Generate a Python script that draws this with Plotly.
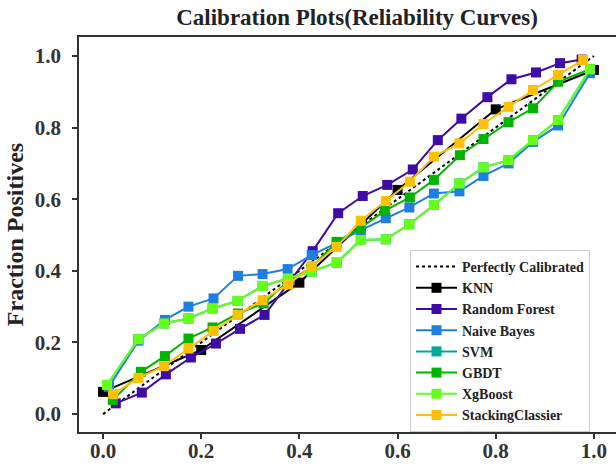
import plotly.graph_objects as go

# ---------------- data ----------------
perfect_x = [0.0, 1.0]
perfect_y = [0.0, 1.0]

knn_x = [0.0, 0.2, 0.4, 0.6, 0.8, 1.0]
knn_y = [0.062, 0.179, 0.367, 0.626, 0.851, 0.961]

rf_x = [0.026, 0.079, 0.128, 0.179, 0.230, 0.279, 0.329, 0.378, 0.427, 0.479,
        0.529, 0.579, 0.631, 0.682, 0.730, 0.783, 0.832, 0.882, 0.931, 0.975]
rf_y = [0.030, 0.060, 0.111, 0.158, 0.197, 0.238, 0.277, 0.365, 0.455, 0.561,
        0.609, 0.640, 0.683, 0.765, 0.825, 0.885, 0.935, 0.954, 0.980, 0.990]

nb_x = [0.012, 0.072, 0.126, 0.174, 0.225, 0.275, 0.325, 0.376, 0.425, 0.476,
        0.525, 0.576, 0.624, 0.674, 0.726, 0.775, 0.826, 0.876, 0.927, 0.992]
nb_y = [0.076, 0.205, 0.263, 0.300, 0.323, 0.386, 0.391, 0.405, 0.444, 0.478,
        0.514, 0.547, 0.577, 0.616, 0.622, 0.665, 0.700, 0.760, 0.806, 0.952]

svm_x = [0.008, 0.072, 0.124, 0.174, 0.223, 0.274, 0.325, 0.377, 0.425, 0.476,
         0.525, 0.576, 0.624, 0.674, 0.726, 0.775, 0.826, 0.876, 0.927, 0.992]
svm_y = [0.081, 0.209, 0.253, 0.267, 0.295, 0.316, 0.358, 0.379, 0.398, 0.423,
         0.486, 0.488, 0.530, 0.584, 0.644, 0.689, 0.709, 0.765, 0.821, 0.963]

gbdt_x = [0.020, 0.077, 0.126, 0.174, 0.223, 0.275, 0.327, 0.376, 0.425, 0.476,
          0.525, 0.574, 0.625, 0.674, 0.727, 0.775, 0.826, 0.876, 0.927, 0.992]
gbdt_y = [0.039, 0.118, 0.162, 0.211, 0.242, 0.281, 0.309, 0.370, 0.410, 0.481,
          0.520, 0.568, 0.605, 0.654, 0.723, 0.768, 0.815, 0.854, 0.928, 0.963]

xgb_x = [0.008, 0.072, 0.124, 0.174, 0.223, 0.274, 0.325, 0.377, 0.425, 0.476,
         0.525, 0.576, 0.624, 0.674, 0.726, 0.775, 0.826, 0.876, 0.927, 0.992]
xgb_y = [0.081, 0.209, 0.253, 0.267, 0.295, 0.316, 0.358, 0.379, 0.398, 0.423,
         0.486, 0.488, 0.530, 0.584, 0.644, 0.689, 0.709, 0.765, 0.821, 0.963]

stack_x = [0.021, 0.072, 0.124, 0.174, 0.225, 0.274, 0.325, 0.377, 0.425, 0.476,
           0.525, 0.576, 0.625, 0.674, 0.726, 0.775, 0.826, 0.876, 0.927, 0.978]
stack_y = [0.056, 0.101, 0.134, 0.183, 0.232, 0.277, 0.318, 0.362, 0.413, 0.467,
           0.540, 0.595, 0.649, 0.719, 0.756, 0.810, 0.858, 0.905, 0.947, 0.989]

tick_vals = [0.0, 0.2, 0.4, 0.6, 0.8, 1.0]
tick_text = ["0.0", "0.2", "0.4", "0.6", "0.8", "1.0"]

series = [
    ("KNN", knn_x, knn_y, "#000000"),
    ("Random Forest", rf_x, rf_y, "#3f0aa5"),
    ("Naive Bayes", nb_x, nb_y, "#1e7fe3"),
    ("SVM", svm_x, svm_y, "#00a89a"),
    ("GBDT", gbdt_x, gbdt_y, "#00b400"),
    ("XgBoost", xgb_x, xgb_y, "#66ff1a"),
    ("StackingClassier", stack_x, stack_y, "#ffc000"),
]

FONT = "Liberation Serif"
TXT = "#333333"

fig = go.Figure()
fig.add_trace(go.Scatter(
    x=perfect_x, y=perfect_y, mode="lines", name="<b>Perfectly Calibrated</b>",
    line=dict(color="black", width=2, dash="dot")))

for name, xs, ys, col in series:
    fig.add_trace(go.Scatter(
        x=xs, y=ys, mode="lines+markers", name="<b>%s</b>" % name,
        line=dict(color=col, width=2),
        marker=dict(symbol="square", size=10, color=col, line=dict(width=0))))

fig.update_layout(
    width=616, height=466,
    margin=dict(l=79, r=0, t=37, b=34, autoexpand=False),
    paper_bgcolor="white", plot_bgcolor="white",
    title=dict(text="<b>Calibration Plots(Reliability Curves)</b>",
               x=(357 - 79) / 537, xref="paper", xanchor="center",
               y=1 - 17 / 466, yref="container", yanchor="middle",
               font=dict(family=FONT, size=23, color="#222222")),
    font=dict(family=FONT, color=TXT),
    legend=dict(
        x=(410 - 79) / 537, y=(432 - 250) / 395, xanchor="left", yanchor="top",
        bgcolor="white", bordercolor="#cccccc", borderwidth=1,
        font=dict(family=FONT, size=14, color="#222222"),
        itemwidth=41, tracegroupgap=0),
    showlegend=True,
)

fig.update_xaxes(
    range=[-0.049, 1.045], tickvals=tick_vals, ticktext=["<b>%s</b>" % t for t in tick_text],
    showgrid=False, zeroline=False, showline=True, linecolor="#333333", linewidth=1.5,
    mirror=True, ticks="outside", ticklen=5, tickwidth=1.5, tickcolor="#333333",
    ticklabelstandoff=-6, automargin=False,
    tickfont=dict(family=FONT, size=21, color=TXT))

fig.update_yaxes(
    range=[-0.05, 1.053], tickvals=tick_vals, ticktext=["<b>%s</b>" % t for t in tick_text],
    showgrid=False, zeroline=False, showline=True, linecolor="#333333", linewidth=1.5,
    ticks="outside", ticklen=5, tickwidth=1.5, tickcolor="#333333",
    ticklabelstandoff=7, automargin=False,
    tickfont=dict(family=FONT, size=21, color=TXT),
    title=dict(text="<b>Fraction Positives</b>", standoff=4,
               font=dict(family=FONT, size=24, color="#222222")))

fig.write_html("out.html")
